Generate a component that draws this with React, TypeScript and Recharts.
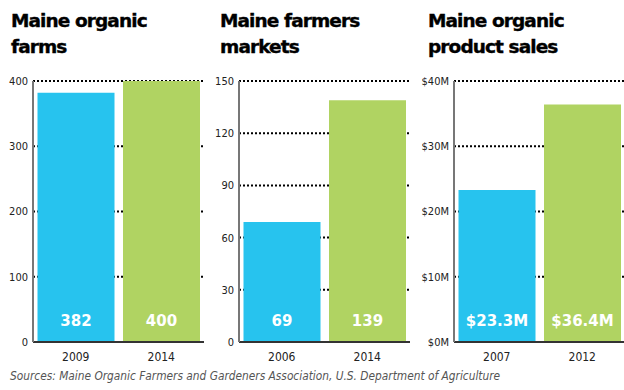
import React from 'react';
import {
    BarChart, Bar, XAxis, YAxis, CartesianGrid, Cell, LabelList
} from 'recharts';

const farmYears = ['2009', '2014'];
const farmCounts = [382, 400];
const farmTicks = [0, 100, 200, 300, 400];

const marketYears = ['2006', '2014'];
const marketCounts = [69, 139];
const marketTicks = [0, 30, 60, 90, 120, 150];

const salesYears = ['2007', '2012'];
const salesMillions = [23.3, 36.4];
const salesTicks = [0, 10, 20, 30, 40];

const barColors = ['#27c3ee', '#b0d362'];
const tickFont = '"DejaVu Sans Condensed", "DejaVu Sans", sans-serif';
const boldFont = '"DejaVu Sans", Verdana, sans-serif';

const toRows = (years: string[], values: number[]) =>
    years.map((year, i) => ({ year, value: values[i] }));

type PanelProps = {
    left: number;
    title: string[];
    titleLeft: number;
    rows: { year: string; value: number }[];
    ticks: number[];
    axisWidth: number;
    tickFormat: (v: number) => string;
    labelFormat: (v: number) => string;
};

const ValueLabel = (format: (v: number) => string) => (props: any) => {
    const { x, y, width, height, value } = props;
    return (
        <text
            x={Number(x) + Number(width) / 2}
            y={Number(y) + Number(height) - 16}
            textAnchor="middle"
            fill="#ffffff"
            fontFamily={boldFont}
            fontWeight="bold"
            fontSize={15}
        >
            {format(Number(value))}
        </text>
    );
};

const Panel = ({ left, title, titleLeft, rows, ticks, axisWidth, tickFormat, labelFormat }: PanelProps) => (
    <>
        <div
            style={{
                position: 'absolute', left: titleLeft, top: 8,
                fontFamily: boldFont, fontWeight: 'bold', fontSize: 18.5,
                letterSpacing: -0.9, lineHeight: '26px', color: '#000',
                whiteSpace: 'nowrap', WebkitTextStroke: '0.4px #000'
            }}
        >
            {title.map((t) => <div key={t}>{t}</div>)}
        </div>
        <div style={{ position: 'absolute', left, top: 60 }}>
            <BarChart
                width={210}
                height={310}
                data={rows}
                margin={{ top: 21, right: 210 - axisWidth - 172 + 1, bottom: 8, left: 0 }}
                barCategoryGap={4.5}
            >
                <XAxis
                    dataKey="year"
                    height={20}
                    tickSize={0}
                    tickMargin={10}
                    tickLine={false}
                    axisLine={{ stroke: '#333', strokeWidth: 2 }}
                    tick={{ fill: '#222', fontSize: 12, fontFamily: tickFont }}
                />
                <YAxis
                    width={axisWidth}
                    domain={[0, ticks[ticks.length - 1]]}
                    ticks={ticks}
                    interval={0}
                    tickSize={0}
                    tickMargin={5}
                    tickLine={false}
                    axisLine={{ stroke: '#777', strokeWidth: 2 }}
                    tickFormatter={tickFormat}
                    tick={{ fill: '#222', fontSize: 11, fontFamily: tickFont }}
                />
                <Bar dataKey="value" isAnimationActive={false}>
                    {rows.map((r, i) => <Cell key={r.year} fill={barColors[i]} />)}
                    <LabelList dataKey="value" content={ValueLabel(labelFormat)} />
                </Bar>
                <CartesianGrid
                    vertical={false}
                    stroke="#000"
                    strokeWidth={2}
                    strokeDasharray="2 2"
                />
            </BarChart>
        </div>
    </>
);

export default function App() {
    return (
        <div style={{ position: 'absolute', left: 0, top: 0, width: 624, height: 390, background: '#fff' }}>
            <Panel
                left={0}
                title={['Maine organic', 'farms']}
                titleLeft={11}
                rows={toRows(farmYears, farmCounts)}
                ticks={farmTicks}
                axisWidth={33}
                tickFormat={(v) => String(v)}
                labelFormat={(v) => String(v)}
            />
            <Panel
                left={206}
                title={['Maine farmers', 'markets']}
                titleLeft={220}
                rows={toRows(marketYears, marketCounts)}
                ticks={marketTicks}
                axisWidth={33}
                tickFormat={(v) => String(v)}
                labelFormat={(v) => String(v)}
            />
            <Panel
                left={414}
                title={['Maine organic', 'product sales']}
                titleLeft={428}
                rows={toRows(salesYears, salesMillions)}
                ticks={salesTicks}
                axisWidth={40}
                tickFormat={(v) => `$${v}M`}
                labelFormat={(v) => `$${v.toFixed(1)}M`}
            />
            <div
                style={{
                    position: 'absolute', left: 10, top: 370,
                    fontFamily: tickFont, fontStyle: 'italic', fontSize: 11.8,
                    lineHeight: '12px', color: '#555', whiteSpace: 'nowrap'
                }}
            >
                Sources: Maine Organic Farmers and Gardeners Association, U.S. Department of Agriculture
            </div>
        </div>
    );
}
